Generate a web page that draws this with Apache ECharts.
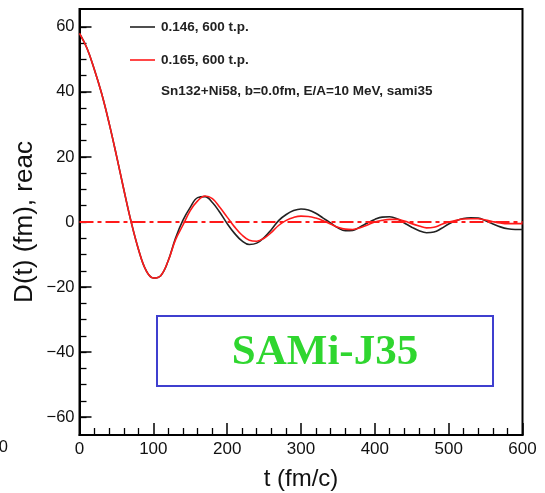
<!DOCTYPE html>
<html>
<head>
<meta charset="utf-8">
<script src="https://cdn.jsdelivr.net/npm/echarts@6/dist/echarts.min.js"></script>
<style>
  html, body { margin: 0; padding: 0; background: #fff; }
  #chart { width: 545px; height: 493px; }
</style>
</head>
<body>
<div id="chart"></div>
<script>
// Time grid (fm/c)
const times = [0, 10, 20, 30, 40, 50, 60, 70, 80, 90, 100, 110, 120, 130, 140, 150, 160, 170, 180, 190,
  200, 210, 220, 230, 240, 250, 260, 270, 280, 290, 300, 310, 320, 330, 340, 350, 360, 370, 380, 390,
  400, 410, 420, 430, 440, 450, 460, 470, 480, 490, 500, 510, 520, 530, 540, 550, 560, 570, 580, 590, 600];

// D(t) in fm, parameter set 0.146 (600 test particles)
const dipole146 = [58, 53.5, 47, 39.5, 30.5, 20.5, 10, 0, -8.5, -14.8, -17.2, -16.5, -12, -5, 0.5, 4.5, 7.5, 7.8, 6.0, 3.0,
  -0.5, -3.5, -5.8, -6.9, -6.5, -4.8, -2.3, 0.5, 2.3, 3.5, 4.0, 3.7, 2.7, 1.2, -0.3, -1.8, -2.7, -2.6, -1.5, -0.3,
  0.8, 1.5, 1.6, 1.0, -0.3, -1.6, -2.7, -3.3, -3.1, -2.0, -0.6, 0.4, 1.1, 1.3, 1.2, 0.4, -0.6, -1.5, -2.1, -2.3, -2.3];

// D(t) in fm, parameter set 0.165 (600 test particles)
const dipole165 = [58, 53.5, 47, 39.5, 30.5, 20.5, 10, 0, -8.5, -14.8, -17.2, -16.5, -12, -5.5, -1, 3.5, 6.5, 8.0, 7.2, 4.5,
  1.5, -1.5, -4, -5.6, -5.9, -5, -3.2, -1, 0.5, 1.4, 1.8, 1.7, 1.2, 0.4, -0.6, -1.6, -2.2, -2.3, -1.8, -0.9,
  0, 0.5, 0.8, 0.8, 0.3, -0.5, -1.2, -1.8, -1.6, -0.8, 0, 0.5, 0.9, 1.0, 1.0, 0.6, 0.1, -0.3, -0.5, -0.5, -0.5];

const seriesNames = ['0.146, 600 t.p.', '0.165, 600 t.p.'];
const seriesColors = ['#222', '#ff1a1a'];
const reactionNote = 'Sn132+Ni58, b=0.0fm, E/A=10 MeV, sami35';
const boxLabel = 'SAMi-J35';

// Axis ticks
const yMajorTicks = [-60, -40, -20, 0, 20, 40, 60];
const yMinorTicks = [-60, -55, -50, -45, -40, -35, -30, -25, -20, -15, -10, -5, 0, 5, 10, 15, 20, 25, 30, 35, 40, 45, 50, 55, 60];
const xTickStep = 100;

const pairs = (xs, ys) => xs.map((x, i) => [x, ys[i]]);
const minusSign = v => String(v).replace('-', '\u2212');

const chart = echarts.init(document.getElementById('chart'), null, { renderer: 'canvas' });

const font = 'Liberation Sans, Arial, sans-serif';
const yMin = -65.5, yMax = 65.5;

// Legend drawn as short line samples followed by their labels
const legendRows = [27, 60];
const legendGraphics = [];
seriesNames.forEach((name, i) => {
  legendGraphics.push({
    type: 'line', shape: { x1: 130, y1: legendRows[i], x2: 155, y2: legendRows[i] },
    style: { stroke: seriesColors[i], lineWidth: 1.6 }
  });
  legendGraphics.push({
    type: 'text', x: 161, y: legendRows[i],
    style: { text: name, fontFamily: font, fontSize: 13.5, fontWeight: 'bold', fill: '#222', verticalAlign: 'middle' }
  });
});

const option = {
  backgroundColor: '#fff',
  animation: false,
  grid: {
    left: 79.5, right: 22.5, top: 9, bottom: 58,
    outerBoundsMode: 'none', containLabel: false,
    show: true, borderColor: '#000', borderWidth: 2, backgroundColor: 'transparent'
  },
  xAxis: {
    type: 'value', min: 0, max: 600, interval: xTickStep,
    name: 't (fm/c)', nameLocation: 'middle', nameGap: 32, nameMoveOverlap: false,
    nameTextStyle: { fontFamily: font, fontSize: 24, color: '#111' },
    axisLine: { onZero: false, lineStyle: { color: '#000', width: 2 } },
    axisTick: { inside: true, length: 12, lineStyle: { color: '#000', width: 1.5 } },
    minorTick: { show: true, splitNumber: 5, length: 7, lineStyle: { color: '#000', width: 1.3 } },
    splitLine: { show: false },
    axisLabel: { fontFamily: font, fontSize: 17, color: '#111', margin: 6 }
  },
  yAxis: [
    {
      type: 'value', min: yMin, max: yMax, position: 'left',
      name: 'D(t) (fm), reac', nameLocation: 'middle', nameGap: 42, nameMoveOverlap: false,
      nameTextStyle: { fontFamily: font, fontSize: 26, color: '#111' },
      axisLine: { onZero: false, lineStyle: { color: '#000', width: 2 } },
      axisTick: { inside: true, length: 12, customValues: yMajorTicks, lineStyle: { color: '#000', width: 1.5 } },
      splitLine: { show: false },
      axisLabel: { fontFamily: font, fontSize: 16.5, color: '#111', margin: 5, customValues: yMajorTicks, formatter: minusSign }
    },
    {
      type: 'value', min: yMin, max: yMax, position: 'left', offset: 0,
      axisLine: { show: false },
      axisTick: { inside: true, length: 7, customValues: yMinorTicks, lineStyle: { color: '#000', width: 1.3 } },
      splitLine: { show: false },
      axisLabel: { show: false }
    }
  ],
  series: [
    {
      name: seriesNames[0], type: 'line', yAxisIndex: 0,
      data: pairs(times, dipole146), smooth: 0.4, symbol: 'none',
      lineStyle: { color: seriesColors[0], width: 1.6 }
    },
    {
      name: seriesNames[1], type: 'line', yAxisIndex: 0,
      data: pairs(times, dipole165), smooth: 0.4, symbol: 'none',
      lineStyle: { color: seriesColors[1], width: 1.6 },
      markLine: {
        silent: true, symbol: 'none', label: { show: false },
        lineStyle: { color: seriesColors[1], width: 1.8, type: [14, 4, 4, 4] },
        data: [{ yAxis: 0 }]
      }
    }
  ],
  graphic: legendGraphics.concat([
    {
      type: 'text', x: 161, y: 91,
      style: { text: reactionNote, fontFamily: font, fontSize: 13.5, fontWeight: 'bold', fill: '#222', verticalAlign: 'middle' }
    },
    {
      type: 'rect', shape: { x: 157, y: 316, width: 336, height: 70 },
      style: { fill: 'none', stroke: '#3f3fcf', lineWidth: 2 }
    },
    {
      type: 'text', x: 325, y: 353,
      style: {
        text: boxLabel, fontFamily: 'Liberation Serif, Times New Roman, serif', fontSize: 43, fontWeight: 'bold',
        fill: '#2fd62f', align: 'center', verticalAlign: 'middle'
      }
    },
    {
      type: 'text', x: 8, y: 447,
      style: { text: '0', fontFamily: font, fontSize: 16.5, fill: '#111', align: 'right', verticalAlign: 'middle' }
    }
  ])
};

chart.setOption(option);
</script>
</body>
</html>
